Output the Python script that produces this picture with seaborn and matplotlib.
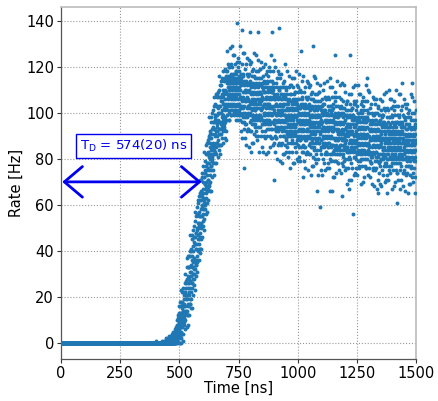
import numpy as np
import pandas as pd
import matplotlib
matplotlib.use("Agg")
import matplotlib.pyplot as plt
import seaborn as sns

# Measured count rate in 0.5 ns time bins, grouped by segment (start time in ns, rates in Hz)
bin_width = 0.5

flat_start = 0
flat_rate = [0] * 800

onset_start = 400
onset_rate = [
    1, 0, 0, 0, 0, 0, 0, 0, 0, 0, 0, 0, 0, 0, 0, 0, 0, 0, 0, 0,
    0, 0, 0, 0, 0, 0, 0, 0, 0, 0, 0, 0, 0, 0, 0, 0, 0, 0, 0, 0,
    0, 0, 0, 0, 0, 0, 0, 0, 0, 0, 0, 0, 0, 1, 0, 0, 0, 0, 0, 0,
    0, 0, 0, 0, 0, 0, 0, 0, 0, 1, 0, 0, 0, 0, 0, 0, 0, 0, 0, 0,
]

rise_start = 440
rise_rate = [
    0, 0, 1, 0, 0, 0, 0, 0, 2, 0, 0, 0, 1, 0, 0, 0, 0, 0, 0, 1,
    0, 1, 0, 0, 2, 0, 0, 0, 1, 0, 0, 3, 0, 0, 0, 1, 0, 0, 2, 0,
    0, 0, 2, 1, 0, 0, 3, 0, 1, 0, 0, 2, 0, 0, 1, 4, 0, 0, 1, 0,
    1, 0, 3, 0, 2, 4, 0, 1, 0, 5, 2, 0, 1, 3, 0, 0, 4, 1, 2, 0,
    2, 5, 0, 3, 1, 6, 4, 0, 2, 7, 3, 1, 5, 0, 4, 2, 8, 3, 1, 6,
    7, 1, 10, 4, 0, 8, 5, 2, 12, 3, 8, 2, 11, 0, 9, 7, 13, 4, 6, 11,
    8, 16, 5, 0, 13, 10, 2, 18, 3, 11, 8, 16, 2, 23, 7, 5, 12, 18, 0, 13,
    10, 4, 18, 15, 7, 22, 9, 1, 17, 14, 8, 22, 14, 11, 24, 4, 19, 12, 17, 9,
    11, 21, 8, 16, 26, 13, 10, 22, 14, 6, 22, 30, 16, 21, 13, 27, 21, 14, 24, 19,
    26, 12, 33, 19, 7, 28, 21, 14, 37, 16, 26, 12, 33, 8, 29, 24, 38, 17, 22, 33,
    26, 38, 21, 12, 33, 28, 17, 40, 19, 31, 27, 38, 17, 47, 24, 22, 31, 41, 15, 34,
    29, 19, 40, 36, 24, 45, 26, 15, 38, 33, 26, 47, 35, 30, 49, 21, 42, 33, 40, 28,
    30, 44, 25, 37, 51, 32, 28, 46, 35, 23, 46, 57, 36, 43, 32, 53, 43, 34, 48, 41,
    48, 34, 55, 41, 29, 50, 43, 36, 59, 38, 49, 35, 56, 31, 52, 47, 61, 40, 45, 56,
    50, 62, 45, 36, 57, 52, 41, 64, 43, 55, 51, 62, 41, 71, 48, 46, 55, 65, 39, 58,
    55, 45, 66, 62, 50, 71, 52, 41, 64, 59, 51, 72, 60, 55, 74, 46, 67, 58, 65, 53,
    56, 70, 51, 63, 77, 58, 54, 72, 61, 49, 72, 83, 62, 69, 58, 79, 69, 60, 74, 67,
    75, 61, 82, 68, 56, 77, 70, 63, 86, 65, 75, 61, 82, 57, 78, 73, 87, 66, 71, 82,
    76, 88, 71, 62, 83, 78, 67, 90, 69, 81, 78, 89, 68, 98, 75, 73, 82, 92, 66, 85,
    80, 70, 91, 87, 75, 96, 77, 66, 89, 84, 77, 98, 86, 81, 100, 72, 93, 84, 91, 79,
    80, 94, 75, 87, 101, 82, 78, 96, 85, 73, 96, 107, 86, 93, 82, 103, 93, 84, 98, 91,
    97, 83, 104, 90, 78, 99, 92, 85, 108, 87, 96, 82, 103, 78, 99, 94, 108, 87, 92, 103,
    95, 107, 90, 81, 102, 97, 86, 109, 88, 100, 96, 107, 86, 116, 93, 91, 100, 110, 84, 103,
    96, 86, 107, 103, 91, 112, 93, 82, 105, 100, 91, 112, 100, 95, 114, 86, 107, 98, 105, 93,
    94, 108, 89, 101, 115, 96, 92, 110, 99, 87, 107, 118, 97, 104, 93, 114, 104, 95, 109, 102,
    108, 94, 115, 101, 89, 110, 103, 96, 119, 98, 106, 92, 116, 88, 109, 104, 118, 97, 102, 113,
]

peak_start = 700
peak_rate = [
    103, 118, 115, 108, 114, 99, 127, 104, 111, 113, 107, 115, 101, 121, 106, 116, 113, 110, 97, 120,
    100, 110, 120, 97, 107, 116, 114, 103, 128, 108, 113, 111, 104, 117, 115, 101, 121, 99, 106, 113,
    99, 108, 113, 116, 120, 104, 115, 101, 110, 129, 113, 107, 103, 117, 106, 114, 111, 125, 100, 114,
    104, 117, 114, 108, 113, 99, 125, 103, 113, 110, 100, 121, 106, 115, 101, 118, 111, 108, 97, 118,
    117, 101, 107, 111, 114, 122, 104, 99, 113, 108, 139, 114, 120, 103, 97, 110, 124, 100, 106, 115,
    108, 101, 118, 116, 111, 114, 104, 114, 122, 99, 107, 110, 97, 113, 103, 129, 100, 106, 114, 115,
    112, 92, 114, 102, 107, 117, 96, 105, 121, 99, 136, 103, 89, 113, 106, 116, 100, 126, 98, 109,
    117, 102, 107, 93, 114, 103, 76, 126, 106, 96, 112, 89, 109, 105, 119, 100, 95, 110, 113, 98,
    110, 95, 121, 105, 99, 114, 86, 109, 102, 117, 106, 98, 112, 92, 107, 124, 100, 103, 116, 93,
    113, 103, 93, 116, 106, 123, 99, 110, 85, 105, 117, 102, 109, 96, 121, 112, 92, 114, 135, 100,
    113, 104, 99, 122, 92, 108, 97, 111, 102, 83, 116, 105, 109, 95, 106, 118, 101, 87, 112, 98,
    108, 95, 119, 104, 99, 113, 87, 109, 116, 102, 112, 91, 106, 97, 111, 126, 101, 104, 115, 94,
    95, 111, 105, 101, 118, 90, 108, 113, 99, 104, 125, 98, 92, 109, 115, 102, 88, 112, 106, 97,
    104, 111, 94, 123, 135, 98, 108, 118, 90, 113, 105, 102, 115, 99, 109, 83, 112, 106, 119, 97,
    99, 119, 97, 109, 104, 94, 115, 106, 90, 112, 101, 108, 122, 98, 105, 95, 111, 85, 113, 102,
    92, 107, 102, 116, 95, 106, 110, 83, 103, 113, 97, 120, 100, 104, 90, 109, 114, 99, 96, 111,
    100, 113, 89, 104, 109, 95, 121, 99, 92, 106, 96, 117, 102, 111, 97, 82, 107, 104, 93, 114,
    113, 97, 103, 107, 90, 118, 100, 95, 109, 104, 83, 110, 116, 99, 93, 106, 120, 96, 102, 111,
    104, 97, 114, 85, 107, 110, 100, 90, 118, 95, 103, 106, 93, 109, 99, 125, 96, 102, 89, 111,
    109, 89, 111, 99, 135, 114, 93, 102, 118, 96, 107, 100, 86, 110, 103, 113, 97, 123, 95, 106,
]

decay_start = 900
decay_rate = [
    111, 71, 101, 87, 108, 97, 93, 120, 100, 90, 106, 83, 103, 99, 113, 94, 89, 104, 107, 92,
    104, 89, 115, 99, 93, 108, 80, 103, 96, 111, 100, 92, 106, 86, 101, 118, 94, 97, 110, 87,
    107, 97, 137, 110, 100, 117, 93, 104, 79, 99, 111, 96, 103, 90, 115, 106, 86, 108, 101, 94,
    108, 99, 94, 117, 87, 103, 92, 106, 97, 78, 111, 100, 104, 90, 101, 113, 96, 82, 107, 93,
    103, 90, 114, 99, 94, 108, 82, 104, 111, 97, 107, 86, 101, 92, 106, 121, 96, 99, 110, 89,
    88, 104, 98, 94, 111, 83, 101, 106, 92, 97, 118, 91, 85, 102, 108, 95, 81, 105, 99, 90,
    97, 104, 87, 116, 94, 91, 101, 111, 83, 106, 98, 95, 108, 92, 102, 76, 105, 99, 112, 90,
    92, 112, 90, 102, 97, 87, 108, 99, 83, 105, 94, 101, 115, 91, 98, 88, 104, 78, 106, 95,
    87, 102, 97, 111, 90, 101, 105, 78, 98, 108, 92, 115, 95, 99, 85, 104, 109, 94, 91, 106,
    94, 109, 83, 99, 105, 90, 118, 95, 102, 87, 98, 106, 92, 112, 97, 80, 104, 101, 88, 111,
    89, 99, 109, 86, 96, 79, 103, 92, 117, 97, 85, 100, 93, 106, 81, 90, 110, 88, 95, 102,
    88, 97, 102, 79, 109, 93, 104, 90, 99, 127, 85, 96, 92, 106, 95, 83, 100, 114, 89, 103,
    107, 92, 97, 83, 104, 93, 72, 116, 96, 86, 102, 79, 99, 95, 109, 90, 85, 100, 103, 88,
    100, 85, 111, 95, 89, 104, 76, 99, 92, 107, 96, 88, 102, 82, 97, 114, 90, 93, 106, 83,
    103, 93, 83, 106, 96, 113, 89, 100, 75, 95, 107, 92, 99, 86, 111, 102, 82, 104, 97, 90,
    103, 94, 89, 112, 82, 98, 87, 101, 92, 73, 106, 95, 99, 85, 96, 108, 91, 77, 102, 88,
    98, 85, 109, 94, 89, 103, 77, 99, 106, 92, 129, 81, 96, 87, 101, 116, 91, 94, 105, 84,
    85, 101, 95, 91, 108, 80, 98, 103, 89, 94, 115, 88, 82, 99, 105, 92, 78, 102, 96, 87,
    94, 101, 84, 113, 66, 88, 98, 108, 80, 103, 95, 92, 105, 89, 99, 73, 102, 96, 109, 87,
    89, 109, 87, 99, 94, 84, 105, 96, 59, 102, 91, 98, 112, 88, 95, 85, 101, 75, 103, 92,
]

tail_start = 1100
tail_rate = [
    82, 97, 92, 106, 85, 96, 100, 73, 93, 103, 87, 110, 90, 94, 80, 99, 104, 89, 86, 101,
    89, 104, 78, 94, 100, 85, 113, 90, 97, 82, 93, 101, 87, 107, 92, 75, 99, 96, 83, 106,
    86, 96, 106, 83, 93, 76, 100, 89, 114, 94, 82, 97, 90, 103, 78, 87, 107, 85, 92, 99,
    85, 94, 99, 76, 106, 90, 101, 87, 96, 115, 82, 93, 89, 103, 66, 80, 97, 111, 86, 100,
    90, 103, 79, 94, 99, 85, 111, 89, 82, 96, 86, 107, 92, 101, 66, 72, 97, 94, 83, 104,
    102, 86, 92, 96, 79, 107, 89, 84, 98, 93, 72, 99, 105, 88, 82, 95, 109, 85, 125, 100,
    93, 86, 103, 74, 96, 99, 89, 79, 107, 84, 92, 95, 82, 98, 88, 114, 85, 91, 78, 100,
    98, 78, 100, 88, 93, 103, 82, 91, 107, 85, 96, 89, 75, 99, 92, 102, 86, 112, 84, 95,
    95, 82, 106, 91, 86, 100, 74, 96, 103, 89, 99, 78, 93, 84, 64, 113, 88, 91, 102, 81,
    82, 98, 92, 88, 105, 77, 95, 100, 86, 91, 112, 85, 79, 96, 102, 89, 75, 99, 93, 84,
    90, 97, 80, 109, 87, 84, 94, 104, 76, 99, 91, 88, 101, 85, 95, 69, 98, 92, 105, 83,
    85, 105, 83, 95, 90, 80, 101, 92, 76, 98, 87, 94, 108, 84, 91, 81, 67, 71, 99, 88,
    80, 95, 125, 104, 83, 94, 98, 71, 91, 101, 85, 108, 88, 92, 78, 97, 102, 87, 84, 99,
    87, 102, 76, 92, 98, 83, 111, 88, 95, 56, 91, 99, 85, 105, 90, 73, 97, 94, 81, 104,
    84, 94, 104, 81, 91, 74, 98, 87, 112, 92, 80, 95, 88, 101, 76, 85, 105, 83, 90, 97,
    82, 91, 96, 73, 103, 87, 98, 84, 93, 112, 79, 90, 86, 100, 89, 77, 94, 108, 83, 97,
    87, 100, 76, 91, 96, 82, 108, 86, 79, 93, 83, 104, 89, 98, 84, 69, 94, 91, 80, 101,
    100, 84, 90, 94, 77, 105, 87, 82, 96, 91, 70, 97, 103, 86, 80, 93, 107, 83, 89, 98,
    91, 84, 101, 72, 94, 97, 87, 77, 105, 82, 90, 93, 80, 96, 86, 112, 83, 89, 76, 98,
    96, 76, 98, 86, 91, 101, 80, 115, 105, 83, 94, 87, 73, 97, 90, 100, 84, 110, 82, 93,
]

late_start = 1300
late_rate = [
    100, 85, 90, 76, 97, 86, 82, 109, 89, 79, 95, 72, 92, 88, 102, 83, 78, 93, 96, 81,
    93, 78, 104, 88, 82, 97, 69, 92, 85, 100, 89, 81, 95, 75, 90, 107, 83, 86, 99, 76,
    96, 86, 76, 99, 89, 106, 82, 93, 68, 88, 100, 85, 92, 79, 104, 95, 75, 97, 90, 83,
    97, 88, 83, 106, 76, 92, 81, 95, 86, 67, 100, 89, 93, 79, 90, 102, 85, 71, 96, 82,
    65, 103, 81, 93, 88, 78, 99, 90, 74, 96, 85, 92, 106, 82, 89, 79, 95, 69, 97, 86,
    77, 92, 87, 101, 80, 91, 95, 68, 88, 98, 82, 105, 85, 89, 75, 94, 99, 84, 81, 96,
    84, 99, 73, 89, 95, 80, 108, 85, 92, 77, 88, 96, 82, 102, 87, 70, 94, 91, 78, 101,
    81, 91, 101, 78, 88, 71, 95, 84, 109, 89, 77, 92, 65, 98, 73, 82, 102, 80, 87, 94,
    80, 89, 94, 71, 101, 85, 96, 82, 91, 110, 77, 88, 84, 98, 87, 75, 92, 106, 81, 95,
    85, 98, 74, 89, 94, 80, 106, 84, 77, 91, 81, 102, 87, 96, 82, 67, 92, 89, 78, 99,
    98, 82, 88, 92, 75, 103, 85, 80, 94, 89, 68, 95, 101, 84, 78, 91, 105, 81, 87, 96,
    89, 82, 99, 70, 92, 95, 85, 75, 103, 80, 88, 91, 78, 94, 84, 110, 81, 87, 74, 96,
    61, 74, 96, 84, 89, 99, 78, 87, 103, 81, 92, 85, 71, 95, 88, 98, 82, 108, 80, 91,
    99, 84, 89, 75, 96, 85, 81, 108, 67, 78, 94, 71, 91, 87, 101, 82, 77, 92, 95, 80,
    92, 113, 103, 87, 81, 96, 68, 91, 84, 99, 88, 80, 94, 74, 89, 106, 82, 85, 98, 75,
    94, 84, 74, 97, 87, 104, 80, 91, 66, 86, 98, 83, 90, 77, 102, 93, 73, 95, 88, 81,
    95, 86, 81, 104, 74, 90, 79, 93, 84, 65, 98, 87, 91, 77, 88, 100, 83, 69, 94, 80,
    90, 77, 101, 86, 81, 95, 69, 91, 98, 84, 94, 73, 88, 79, 93, 108, 83, 86, 97, 76,
    77, 93, 87, 83, 100, 72, 90, 113, 81, 86, 107, 80, 74, 91, 97, 84, 70, 94, 88, 79,
    86, 93, 76, 105, 83, 80, 90, 100, 72, 95, 87, 84, 97, 81, 91, 65, 94, 88, 101, 79,
]

segments = [
    (flat_start, flat_rate),
    (onset_start, onset_rate),
    (rise_start, rise_rate),
    (peak_start, peak_rate),
    (decay_start, decay_rate),
    (tail_start, tail_rate),
    (late_start, late_rate),
]

delay_label = r"T$_\mathrm{D}$ = 574(20) ns"
arrow_level = 70
arrow_left, arrow_right = 5, 594

frames = [
    pd.DataFrame({"time": start + bin_width * np.arange(len(rates)), "rate": rates})
    for start, rates in segments
]
df = pd.concat(frames, ignore_index=True)

sns.set_theme(style="white")
plt.rcParams["font.family"] = ["DejaVu Sans"]
plt.rcParams["text.color"] = "black"
plt.rcParams["axes.labelcolor"] = "black"
plt.rcParams["xtick.color"] = "black"
plt.rcParams["ytick.color"] = "black"

fig = plt.figure(figsize=(4.39, 4.01), dpi=100)
ax = fig.add_axes([0.139, 0.1047, 0.8086, 0.8778])

sns.scatterplot(data=df, x="time", y="rate", ax=ax, s=8, linewidth=0,
                color="#1f77b4", legend=False, zorder=3)

ax.set_xlim(0, 1500)
ax.set_xticks([0, 250, 500, 750, 1000, 1250, 1500])
ax.set_yticks([0, 20, 40, 60, 80, 100, 120, 140])
ax.grid(True, linestyle=":", color="#999999", linewidth=0.8)
ax.set_axisbelow(True)

ax.set_xlabel("Time [ns]", fontsize=10.5, labelpad=0)
ax.set_ylabel("Rate [Hz]", fontsize=10.5, labelpad=2)
ax.tick_params(axis="both", labelsize=10.5, length=3, width=0.8, color="#333333",
               labelcolor="black", left=True, bottom=True, pad=2)

for side in ["left", "bottom"]:
    ax.spines[side].set_color("#555555")
    ax.spines[side].set_linewidth(0.9)
for side in ["top", "right"]:
    ax.spines[side].set_color("#bbbbbb")
    ax.spines[side].set_linewidth(1.2)

ax.annotate("", xy=(arrow_left, arrow_level), xytext=(arrow_right, arrow_level),
            arrowprops=dict(arrowstyle="<->,head_length=1.3,head_width=1.1",
                            color="#0000ee", lw=2, shrinkA=0, shrinkB=0,
                            mutation_scale=10),
            zorder=4)
ax.text(306, 85.5, delay_label, color="#0000ee", fontsize=9.5,
        ha="center", va="center", zorder=5,
        bbox=dict(boxstyle="square,pad=0.3", facecolor="white",
                  edgecolor="#0000ee", linewidth=1))

fig.savefig("out.png", dpi=100)
